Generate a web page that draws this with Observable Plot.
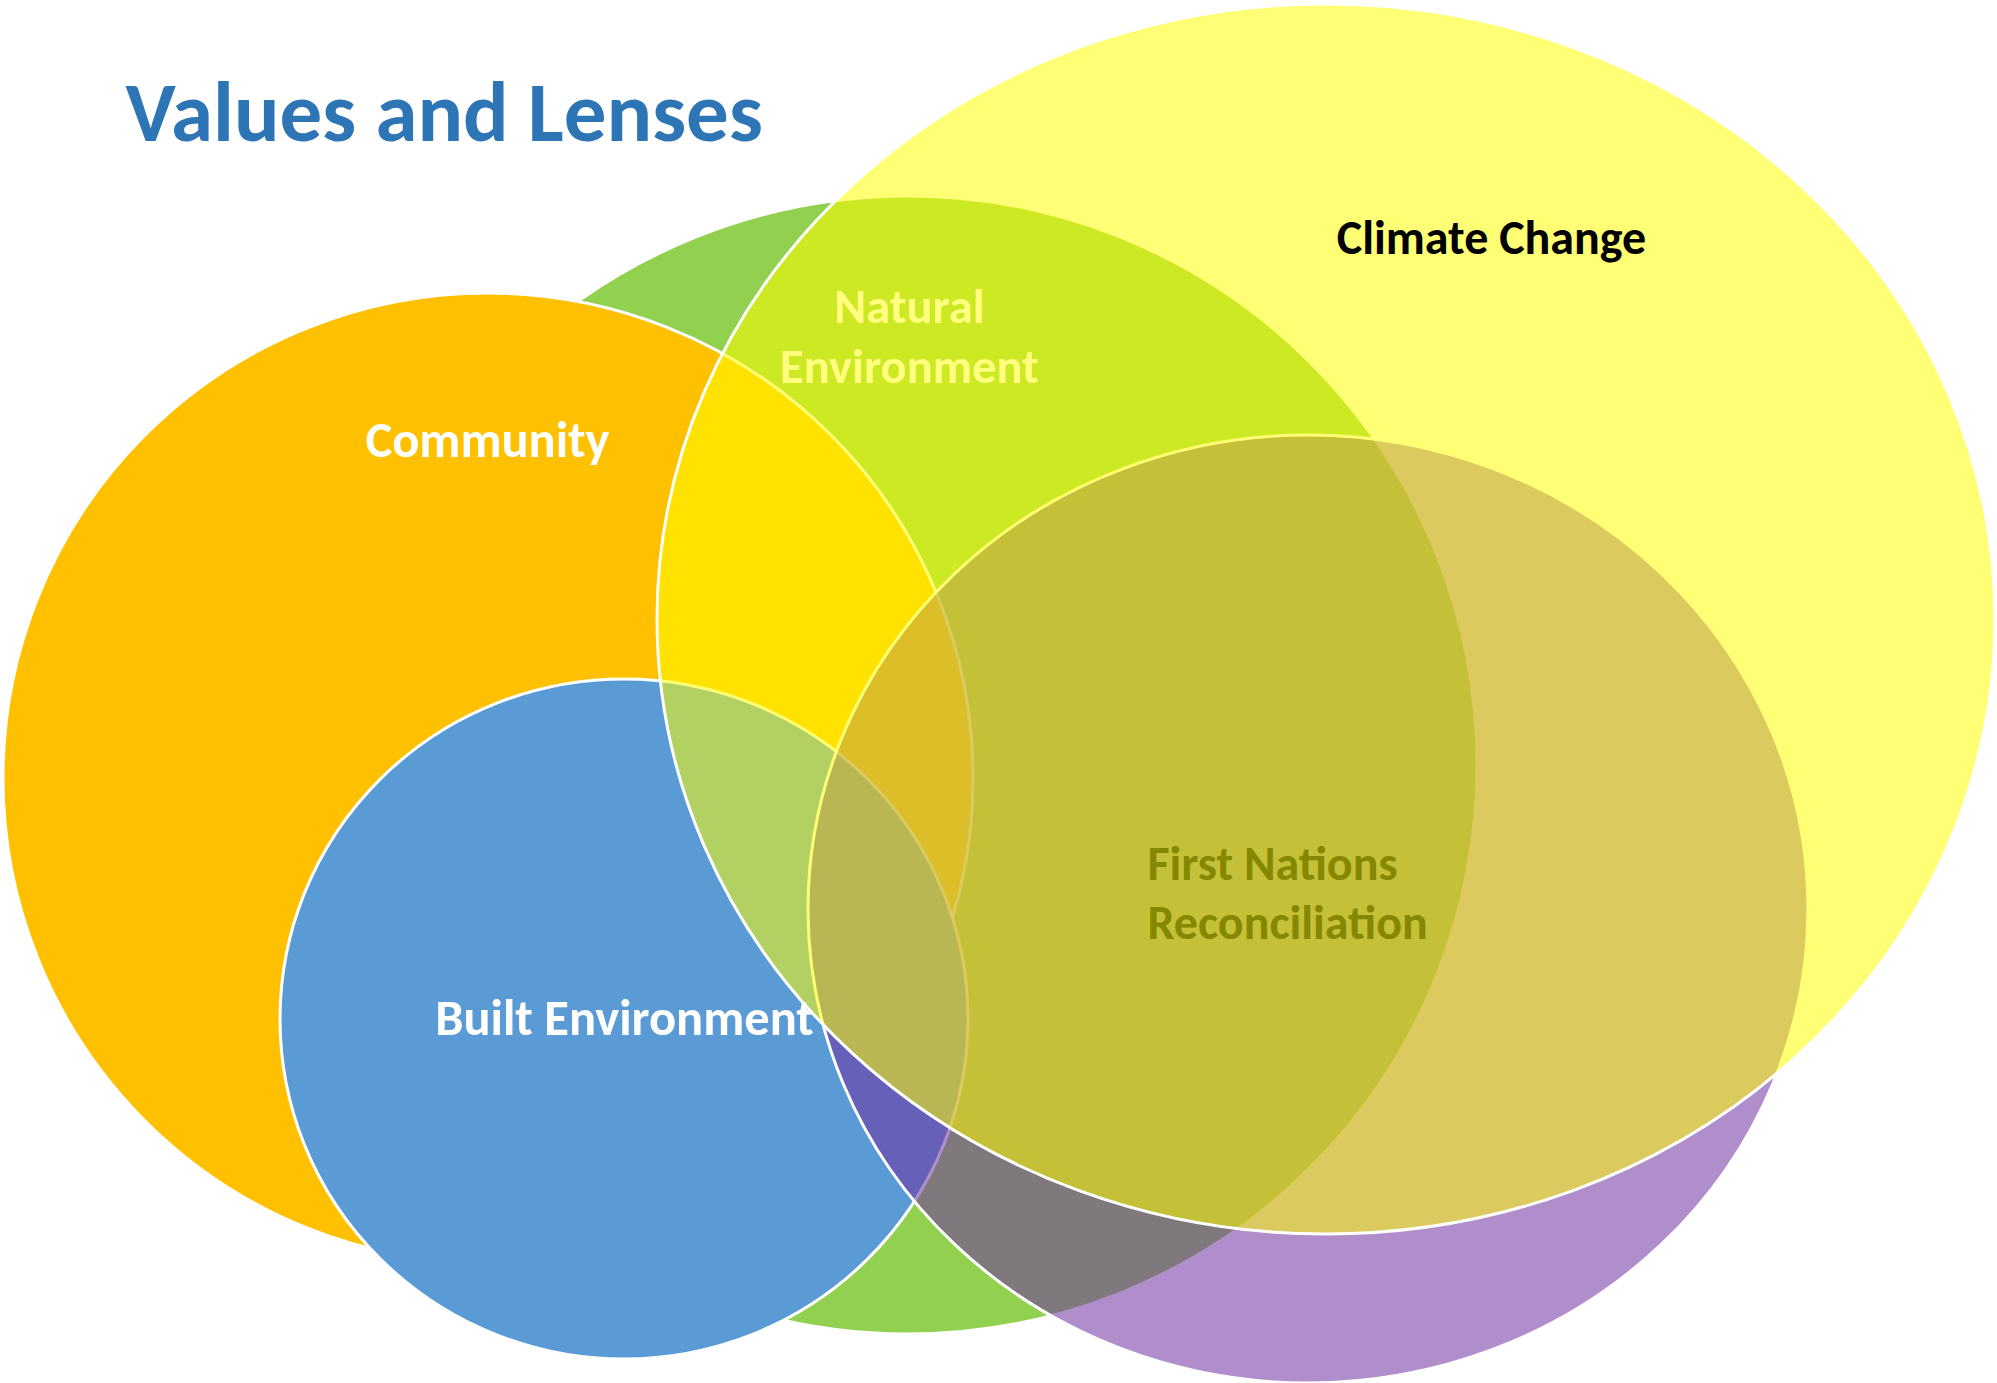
<!DOCTYPE html>
<html>
<head>
<meta charset="utf-8">
<script src="https://cdn.jsdelivr.net/npm/d3@7"></script>
<script src="https://cdn.jsdelivr.net/npm/@observablehq/plot@0.6"></script>
<style>
  html, body { margin: 0; padding: 0; background: #ffffff; }
  #chart svg { display: block; }
</style>
</head>
<body>
<div id="chart"></div>
<script>
// ---- Data (reference pixel space, 1997 x 1383) ----
const setNames = ["Natural Environment", "Community", "Built Environment", "First Nations Reconciliation", "Climate Change"];
const centerX  = [908, 488, 624, 1308, 1326];
const centerY  = [765, 778, 1019, 909, 619];
const radiusX  = [569, 485, 344, 500, 669];
const radiusY  = [569, 485, 340, 474, 615];

const labelText = ["Climate Change", "Natural\nEnvironment", "Community", "First Nations\nReconciliation", "Built Environment"];
const labelSet  = ["Climate Change", "Natural Environment", "Community", "First Nations Reconciliation", "Built Environment"];
const labelX    = [1491, 909, 487, 1147, 624];
const labelY    = [253, 382, 456, 938, 1034];

const titleText = "Values and Lenses";

// ---- Styles ----
const fillOf    = {"Natural Environment": "#92D050", "Community": "#FFC000", "Built Environment": "#5B9BD5", "First Nations Reconciliation": "#7030A0", "Climate Change": "#FFFF00"};
const opacityOf = {"Natural Environment": 1, "Community": 1, "Built Environment": 1, "First Nations Reconciliation": 0.55, "Climate Change": 0.54};
const labelColor = {"Climate Change": "#000000", "Natural Environment": "#FFFF80", "Community": "#FFFFFF", "First Nations Reconciliation": "#858700", "Built Environment": "#FFFFFF"};
const labelSize  = {"Climate Change": 48, "Natural Environment": 48.5, "Community": 50.5, "First Nations Reconciliation": 48, "Built Environment": 50.5};
const labelLine  = {"Natural Environment": 1.23, "First Nations Reconciliation": 1.22};
const labelAnchor = {"First Nations Reconciliation": "start"};

const sets = setNames.map((name, i) => ({name, cx: centerX[i], cy: centerY[i], rx: radiusX[i], ry: radiusY[i]}));
const labels = labelText.map((text, i) => ({text, set: labelSet[i], x: labelX[i], y: labelY[i]}));

const W = 1997, H = 1383;
const FONT = "Carlito, Calibri, Lato, sans-serif";

const ellipses = Plot.dot(sets, {
  x: "cx",
  y: "cy",
  render(index, scales, values, dimensions, context) {
    const g = d3.create("svg:g");
    for (const i of index) {
      const d = sets[i];
      const X = scales.x(d.cx), Y = scales.y(d.cy);
      const RX = Math.abs(scales.x(d.cx + d.rx) - X);
      const RY = Math.abs(scales.y(d.cy + d.ry) - Y);
      g.append("ellipse")
        .attr("cx", X).attr("cy", Y).attr("rx", RX).attr("ry", RY)
        .attr("fill", fillOf[d.name])
        .attr("fill-opacity", opacityOf[d.name])
        .attr("stroke", "#ffffff")
        .attr("stroke-width", 3);
    }
    return g.node();
  }
});

const chart = Plot.plot({
  width: W,
  height: H,
  margin: 0,
  style: {background: "#ffffff", overflow: "visible"},
  x: {domain: [0, W], range: [0, W], axis: null},
  y: {domain: [0, H], range: [0, H], axis: null},
  marks: [
    ellipses,
    ...labels.map(l => Plot.text([l], {
      x: "x", y: "y", text: "text",
      textAnchor: labelAnchor[l.set] || "middle",
      lineAnchor: "bottom",
      lineHeight: labelLine[l.set] || 1,
      fill: labelColor[l.set],
      fontSize: labelSize[l.set],
      fontWeight: "bold",
      fontFamily: FONT
    })),
    Plot.text([{text: titleText, x: 125, y: 140}], {
      x: "x", y: "y", text: "text",
      textAnchor: "start",
      lineAnchor: "bottom",
      fill: "#2E75B6",
      fontSize: 85,
      fontWeight: "bold",
      fontFamily: FONT
    })
  ]
});

document.getElementById("chart").appendChild(chart);
</script>
</body>
</html>
